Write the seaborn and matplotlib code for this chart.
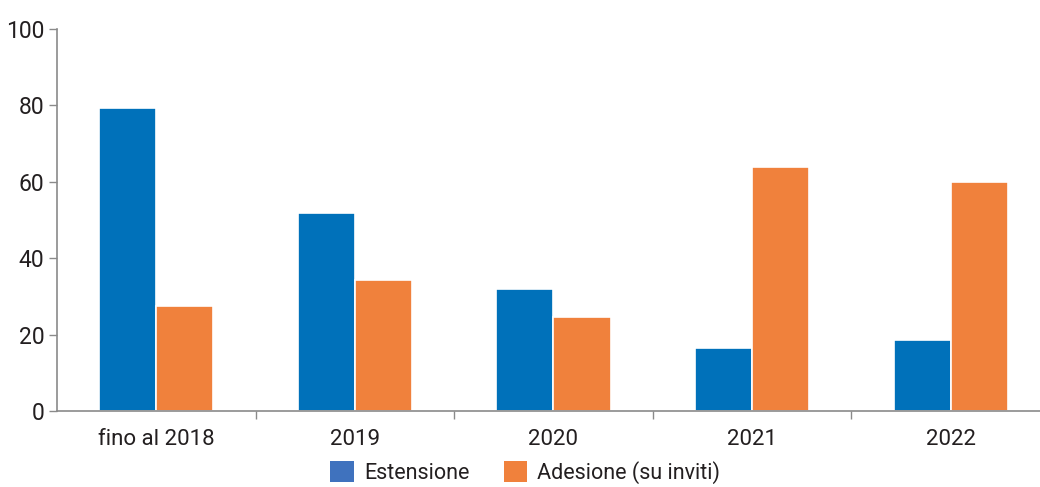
import matplotlib
matplotlib.use("Agg")
import matplotlib.pyplot as plt
import seaborn as sns
import pandas as pd
from matplotlib.patches import Patch
from matplotlib.ticker import FixedLocator

categories = ["fino al 2018", "2019", "2020", "2021", "2022"]
estensione = [79.3, 51.8, 31.9, 16.5, 18.6]
adesione = [27.5, 34.3, 24.6, 63.9, 60.0]
series_names = ["Estensione", "Adesione (su inviti)"]
yticks = [0, 20, 40, 60, 80, 100]

df = pd.DataFrame({
    "cat": categories * 2,
    "val": estensione + adesione,
    "serie": [series_names[0]] * len(categories) + [series_names[1]] * len(categories),
})

sns.set_theme(style="white")
plt.rcParams["font.family"] = ["Roboto", "DejaVu Sans"]

blue = "#0071BA"
orange = "#F0813C"
txt = "#231f20"

fig = plt.figure(figsize=(10.4, 4.87), dpi=100)
ax = fig.add_axes([0.0548, 0.156, 0.9452, 0.7845])
sns.barplot(data=df, x="cat", y="val", hue="serie", order=categories,
            hue_order=series_names, palette=[blue, orange], width=0.575,
            gap=0, saturation=1, edgecolor="white", linewidth=1.2, ax=ax, legend=False)

ax.set_xlim(-0.5, 4.45)
ax.set_ylim(0, 100)
ax.set_yticks(yticks)
ax.set_yticklabels([str(v) for v in yticks], fontsize=16.5, color=txt)
ax.set_xlabel("")
ax.set_ylabel("")
ax.tick_params(axis="x", which="major", length=0, pad=13, labelsize=16, labelcolor=txt)
ax.xaxis.set_minor_locator(FixedLocator([0.5, 1.5, 2.5, 3.5]))
ax.tick_params(axis="x", which="minor", length=6, width=1, color="#8a8a8a", direction="out", bottom=True)
ax.tick_params(axis="y", length=6, width=1, color="#8a8a8a", direction="out", left=True, pad=3)

for s in ["top", "right"]:
    ax.spines[s].set_visible(False)
for s in ["left", "bottom"]:
    ax.spines[s].set_color("#8a8a8a")
    ax.spines[s].set_linewidth(1.2)
ax.grid(False)

handles = [Patch(facecolor="#3F72BE", edgecolor="none"), Patch(facecolor=orange, edgecolor="none")]
fig.legend(handles, series_names, loc="center", bbox_to_anchor=(0.505, 0.03), ncol=2,
           frameon=False, fontsize=15.5, handlelength=1.1, handleheight=1.1,
           columnspacing=1.6, handletextpad=0.45, labelcolor=txt)

fig.savefig("out.png", dpi=100)
